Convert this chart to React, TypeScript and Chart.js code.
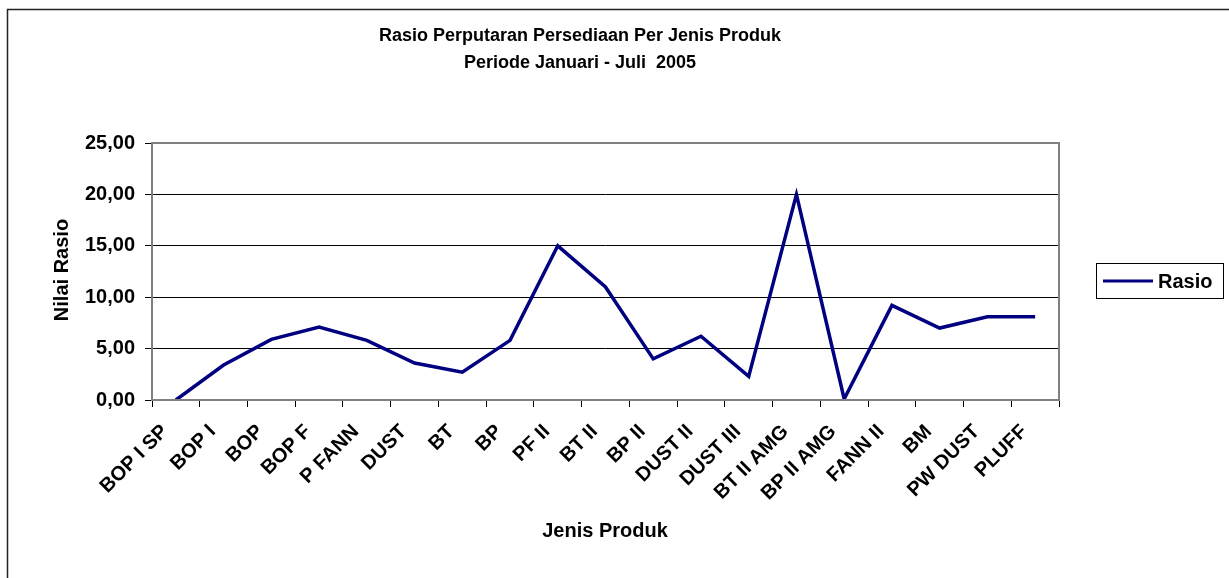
import React, { useEffect, useRef } from "react";
import { Chart, registerables } from "chart.js";

Chart.register(...registerables);

const titleLines = ["Rasio Perputaran Persediaan Per Jenis Produk", "Periode Januari - Juli  2005"];
const xAxisTitle = "Jenis Produk";
const yAxisTitle = "Nilai Rasio";
const seriesLabel = "Rasio";

const categories = [
  "BOP I SP", "BOP I", "BOP", "BOP F", "P FANN", "DUST", "BT", "BP", "PF II", "BT II",
  "BP II", "DUST II", "DUST III", "BT II AMG", "BP II AMG", "FANN II", "BM", "PW DUST", "PLUFF",
];
const rasio = [0, 3.4, 5.9, 7.1, 5.8, 3.6, 2.7, 5.8, 15.0, 11.0, 4.0, 6.2, 2.3, 20.0, 0.1, 9.2, 7.0, 8.1, 8.1];
const yTicks = [0, 5, 10, 15, 20, 25];

const FONT = "'Liberation Sans', Arial, sans-serif";
const LINE_COLOR = "#000080";

const decorPlugin = {
  id: "decor",
  afterDraw(chart: any) {
    const ctx = chart.ctx as CanvasRenderingContext2D;
    const a = chart.chartArea;
    ctx.save();
    // outer frame
    ctx.strokeStyle = "#222";
    ctx.lineWidth = 1.5;
    ctx.beginPath();
    ctx.moveTo(7.5, 600);
    ctx.lineTo(7.5, 9.5);
    ctx.lineTo(1300, 9.5);
    ctx.stroke();
    // plot border
    ctx.strokeStyle = "#808080";
    ctx.lineWidth = 2;
    ctx.strokeRect(a.left, a.top, a.right - a.left, a.bottom - a.top);
    // title
    ctx.fillStyle = "#000";
    ctx.font = `bold 18px ${FONT}`;
    ctx.textAlign = "center";
    ctx.textBaseline = "middle";
    ctx.fillText(titleLines[0], 580, 36);
    ctx.fillText(titleLines[1], 580, 63);
    // axis titles
    ctx.font = `bold 20px ${FONT}`;
    ctx.fillText(xAxisTitle, 605, 531);
    ctx.save();
    ctx.translate(62, 270);
    ctx.rotate(-Math.PI / 2);
    ctx.fillText(yAxisTitle, 0, 0);
    ctx.restore();
    // legend
    ctx.strokeStyle = "#000";
    ctx.lineWidth = 1;
    ctx.strokeRect(1096.5, 263.5, 127, 35);
    ctx.strokeStyle = LINE_COLOR;
    ctx.lineWidth = 3;
    ctx.beginPath();
    ctx.moveTo(1103, 281);
    ctx.lineTo(1153, 281);
    ctx.stroke();
    ctx.fillStyle = "#000";
    ctx.textAlign = "left";
    ctx.font = `bold 20px ${FONT}`;
    ctx.fillText(seriesLabel, 1158, 282);
    ctx.restore();
  },
};

export default function App() {
  const ref = useRef<HTMLCanvasElement>(null);
  useEffect(() => {
    if (!ref.current) return;
    const chart = new Chart(ref.current, {
      type: "line",
      data: {
        labels: categories,
        datasets: [
          {
            label: seriesLabel,
            data: rasio,
            borderColor: LINE_COLOR,
            backgroundColor: LINE_COLOR,
            borderWidth: 3.5,
            pointRadius: 0,
            tension: 0,
            fill: false,
          },
        ],
      },
      options: {
        animation: false,
        responsive: false,
        layout: { padding: { top: 143, right: 170, left: 0, bottom: 0 } },
        plugins: { legend: { display: false }, title: { display: false }, tooltip: { enabled: false } },
        scales: {
          x: {
            type: "category",
            offset: true,
            border: { display: false },
            grid: { offset: true, drawOnChartArea: false, drawTicks: true, tickLength: 7, color: "#000", tickColor: "#000" },
            ticks: {
              autoSkip: false,
              minRotation: 45,
              maxRotation: 45,
              padding: 13,
              labelOffset: -11,
              color: "#000",
              font: { family: FONT, size: 20, weight: "bold" },
            },
            afterFit: (s: any) => {
              s.height = 178;
            },
          },
          y: {
            min: 0,
            max: 25,
            border: { display: false },
            afterBuildTicks: (s: any) => {
              s.ticks = yTicks.map((v) => ({ value: v }));
            },
            grid: {
              color: (c: any) => (c.tick && (c.tick.value === 0 || c.tick.value === 25) ? "rgba(0,0,0,0)" : "#000"),
              tickColor: "#000",
              tickLength: 7,
              lineWidth: 1,
            },
            ticks: {
              padding: 10,
              color: "#000",
              font: { family: FONT, size: 20, weight: "bold" },
              callback: (v: any) => Number(v).toFixed(2).replace(".", ","),
            },
            afterFit: (s: any) => {
              s.width = 152;
            },
          },
        },
      },
      plugins: [decorPlugin],
    });
    return () => chart.destroy();
  }, []);
  return (
    <div style={{ position: "absolute", left: 0, top: 0, width: 1229, height: 578, background: "#fff" }}>
      <canvas ref={ref} width={1229} height={578} style={{ display: "block" }} />
    </div>
  );
}
